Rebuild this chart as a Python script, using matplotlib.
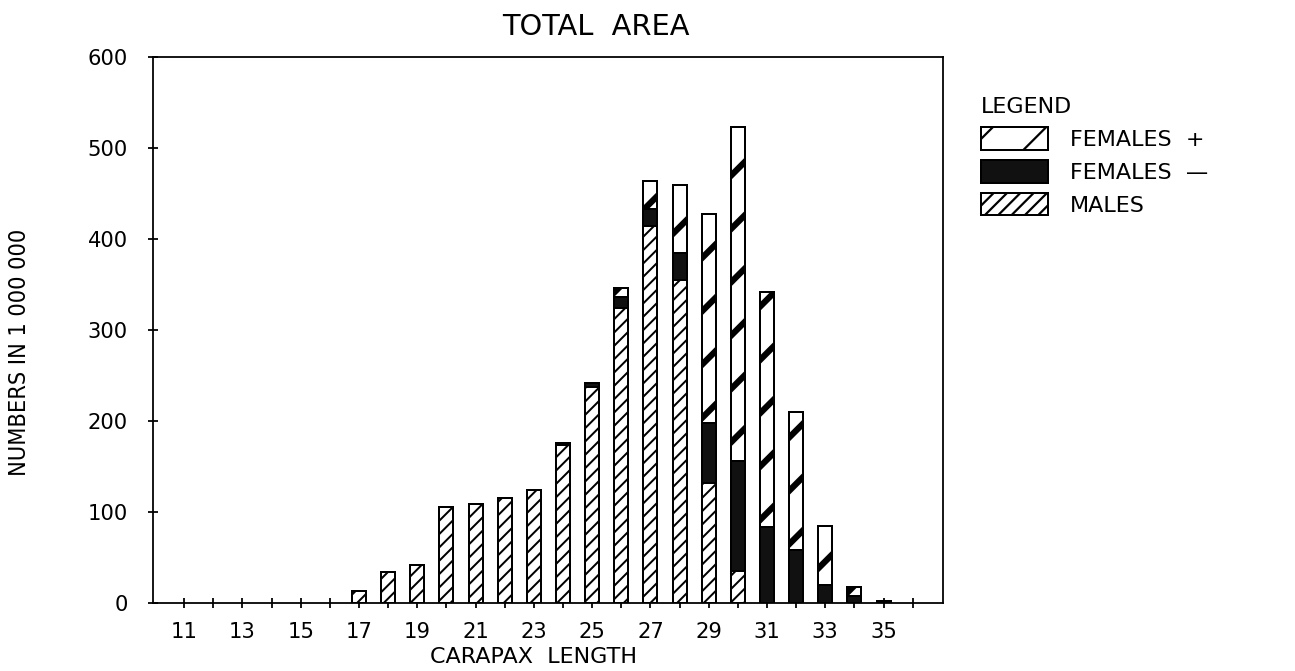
import matplotlib
matplotlib.use("Agg")
import matplotlib.pyplot as plt
from matplotlib.patches import Patch
from matplotlib import font_manager
import numpy as np

# ---- data ----
lengths = list(range(11, 37))
males = [0, 0, 0, 0, 0, 0, 13, 34, 42, 106, 109, 116, 124, 174, 238, 324,
         415, 355, 132, 35, 0, 0, 0, 0, 0, 0]
females_minus = [0, 0, 0, 0, 0, 0, 0, 0, 0, 0, 0, 0, 0, 2, 4, 13,
                 18, 30, 66, 121, 84, 59, 20, 8, 1, 0]
females_plus = [0, 0, 0, 0, 0, 0, 0, 0, 0, 0, 0, 0, 0, 0, 0, 9,
                31, 75, 230, 367, 258, 151, 65, 10, 1, 0]
y_ticks = [0, 100, 200, 300, 400, 500, 600]
x_tick_labels = [str(v) if v % 2 == 1 and v <= 35 else "" for v in lengths]

DPI = 160
fig = plt.figure(figsize=(1295 / DPI, 671 / DPI), dpi=DPI)
ax = fig.add_axes([153 / 1295, (671 - 603.3) / 671, 790 / 1295, (603.3 - 57.3) / 671])

x = np.array(lengths)
m = np.array(males)
fm = np.array(females_minus)
fp = np.array(females_plus)
w = 0.48
elw = 0.9
MALE_HLW = 0.9
FP_HLW = 2.8


def hatched_bar(bottom, vals, hatch, hlw, face):
    with plt.rc_context({"hatch.linewidth": hlw}):
        bars = ax.bar(x, vals, w, bottom=bottom, facecolor=face, edgecolor="black",
                      hatch=hatch, linewidth=elw, zorder=2)
    for b in bars:
        if hasattr(b, "set_hatch_linewidth"):
            b.set_hatch_linewidth(hlw)
        if b.get_height() == 0:
            b.set_visible(False)
    return bars


hatched_bar(0, m, "////", MALE_HLW, "white")
hatched_bar(m, fm, None, MALE_HLW, "#111111")
hatched_bar(m + fm, fp, "/", FP_HLW, "white")

ax.set_xlim(9.93, 37.04)
ax.set_ylim(0, 600)

ax.set_xticks(lengths)
ax.set_xticklabels(x_tick_labels)
ax.set_yticks(y_ticks)
ax.set_yticklabels([str(v) for v in y_ticks])

for lab in ax.get_xticklabels() + ax.get_yticklabels():
    lab.set_fontfamily("DejaVu Sans")
    lab.set_fontsize(9.5)
ax.tick_params(axis="both", direction="inout", length=4.5, width=0.8, color="black")
ax.tick_params(axis="x", pad=6)
ax.tick_params(axis="y", pad=9)
for s in ax.spines.values():
    s.set_linewidth(0.8)

fig.text(596 / 1295, 1 - 27 / 671, "TOTAL  AREA", ha="center", va="center",
         fontsize=13, family="DejaVu Sans")
fig.text(533 / 1295, 1 - 657 / 671, "CARAPAX  LENGTH", ha="center", va="center",
         fontsize=10, family="DejaVu Sans")

narrow = None
for name in ["Liberation Sans Narrow", "DejaVu Sans Condensed"]:
    try:
        fp_path = font_manager.findfont(font_manager.FontProperties(family=name),
                                        fallback_to_default=False)
        narrow = name
        break
    except Exception:
        pass
if narrow is not None:
    ylab_font = dict(family=narrow)
else:
    ylab_font = dict(family="DejaVu Sans", stretch="condensed")
fig.text(20 / 1295, 1 - 352 / 671, "NUMBERS IN 1 000 000", rotation=90,
         ha="center", va="center", fontsize=10.5, **ylab_font)

with plt.rc_context({"hatch.linewidth": FP_HLW}):
    h1 = Patch(facecolor="white", edgecolor="black", hatch="/", linewidth=elw)
h2 = Patch(facecolor="#111111", edgecolor="black", linewidth=elw)
with plt.rc_context({"hatch.linewidth": MALE_HLW}):
    h3 = Patch(facecolor="white", edgecolor="black", hatch="////", linewidth=elw)
for h, lw in ((h1, FP_HLW), (h3, MALE_HLW)):
    if hasattr(h, "set_hatch_linewidth"):
        h.set_hatch_linewidth(lw)

leg = fig.legend([h1, h2, h3], ["FEMALES  +", "FEMALES  \u2014", "MALES"],
                 loc="upper left", bbox_to_anchor=(972 / 1295, 1 - 88 / 671),
                 frameon=False, title="LEGEND", alignment="left",
                 prop=dict(family="DejaVu Sans", size=10),
                 title_fontproperties=dict(family="DejaVu Sans", size=10),
                 handlelength=3.0, handleheight=1.2, handletextpad=1.0,
                 labelspacing=0.45, borderaxespad=0)

fig.savefig("out.png", dpi=DPI)
